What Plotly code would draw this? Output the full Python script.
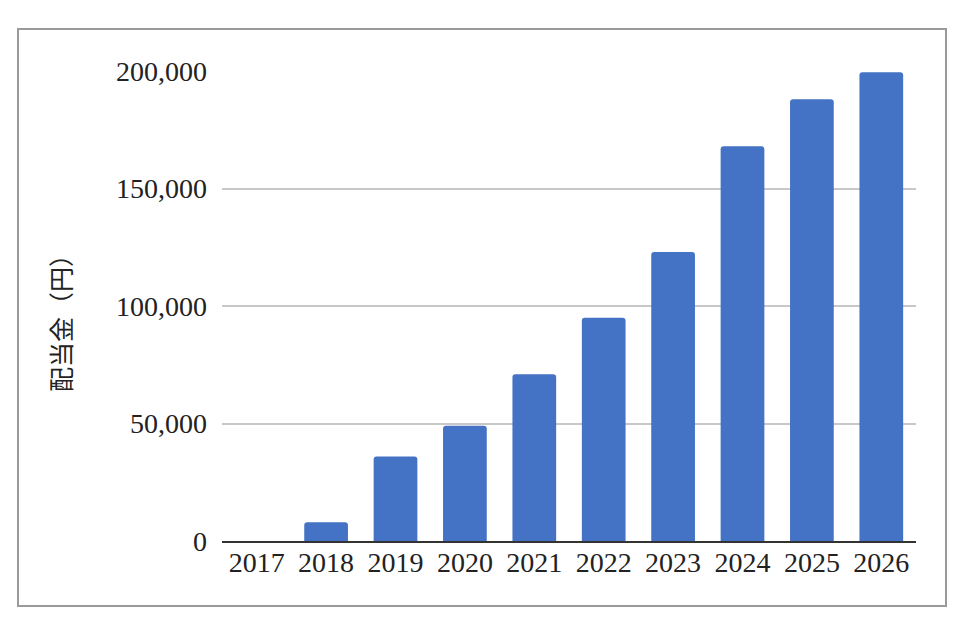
import plotly.graph_objects as go

# data
years = ["2017", "2018", "2019", "2020", "2021", "2022", "2023", "2024", "2025", "2026"]
dividends = [0, 8000, 36000, 49000, 71000, 95000, 123000, 168000, 188000, 199500]
y_ticks = [0, 50000, 100000, 150000, 200000]
y_tick_labels = ["0", "50,000", "100,000", "150,000", "200,000"]

BAR_COLOR = "#4472C4"
SERIF = "'Liberation Serif', 'DejaVu Serif', serif"

fig = go.Figure(
    go.Bar(
        x=years,
        y=dividends,
        marker=dict(color=BAR_COLOR, cornerradius=3, line=dict(width=0)),
    )
)

# page body has an 8px margin, so the figure is 8px smaller and margins shifted
fig.update_layout(
    width=956,
    height=624,
    paper_bgcolor="white",
    plot_bgcolor="white",
    margin=dict(l=214, r=48, t=63, b=91),
    bargap=0.37,
    showlegend=False,
    font=dict(family=SERIF, size=28, color="#222222"),
    xaxis=dict(
        type="category",
        showgrid=False,
        showline=True,
        linecolor="#333333",
        linewidth=2,
        ticks="",
        ticklen=0,
        ticklabelstandoff=-5,
        tickfont=dict(family=SERIF, size=28, color="#222222"),
    ),
    yaxis=dict(
        range=[0, 200000],
        tickvals=y_ticks,
        ticktext=y_tick_labels,
        showgrid=True,
        gridcolor="#c8c8c8",
        gridwidth=1.5,
        zeroline=False,
        showline=False,
        ticks="",
        ticklabelstandoff=14,
        tickfont=dict(family=SERIF, size=28, color="#222222"),
    ),
    annotations=[
        dict(
            text="配当金（円）",
            xref="paper", yref="paper",
            x=(60 - 222) / 694, y=(541 - 317) / 470,
            xanchor="center", yanchor="middle",
            textangle=-90,
            showarrow=False,
            font=dict(family="'Noto Sans CJK JP', sans-serif", size=25, color="#222222"),
        )
    ],
    # outer grey frame around the chart
    shapes=[
        dict(
            type="rect",
            xref="paper", yref="paper",
            x0=(18 - 222) / 694, x1=(946 - 222) / 694,
            y0=(541 - 606) / 470, y1=(541 - 29) / 470,
            line=dict(color="#9a9a9a", width=2),
            fillcolor="rgba(0,0,0,0)",
            layer="below",
        )
    ],
)

fig.write_html("out.html")
